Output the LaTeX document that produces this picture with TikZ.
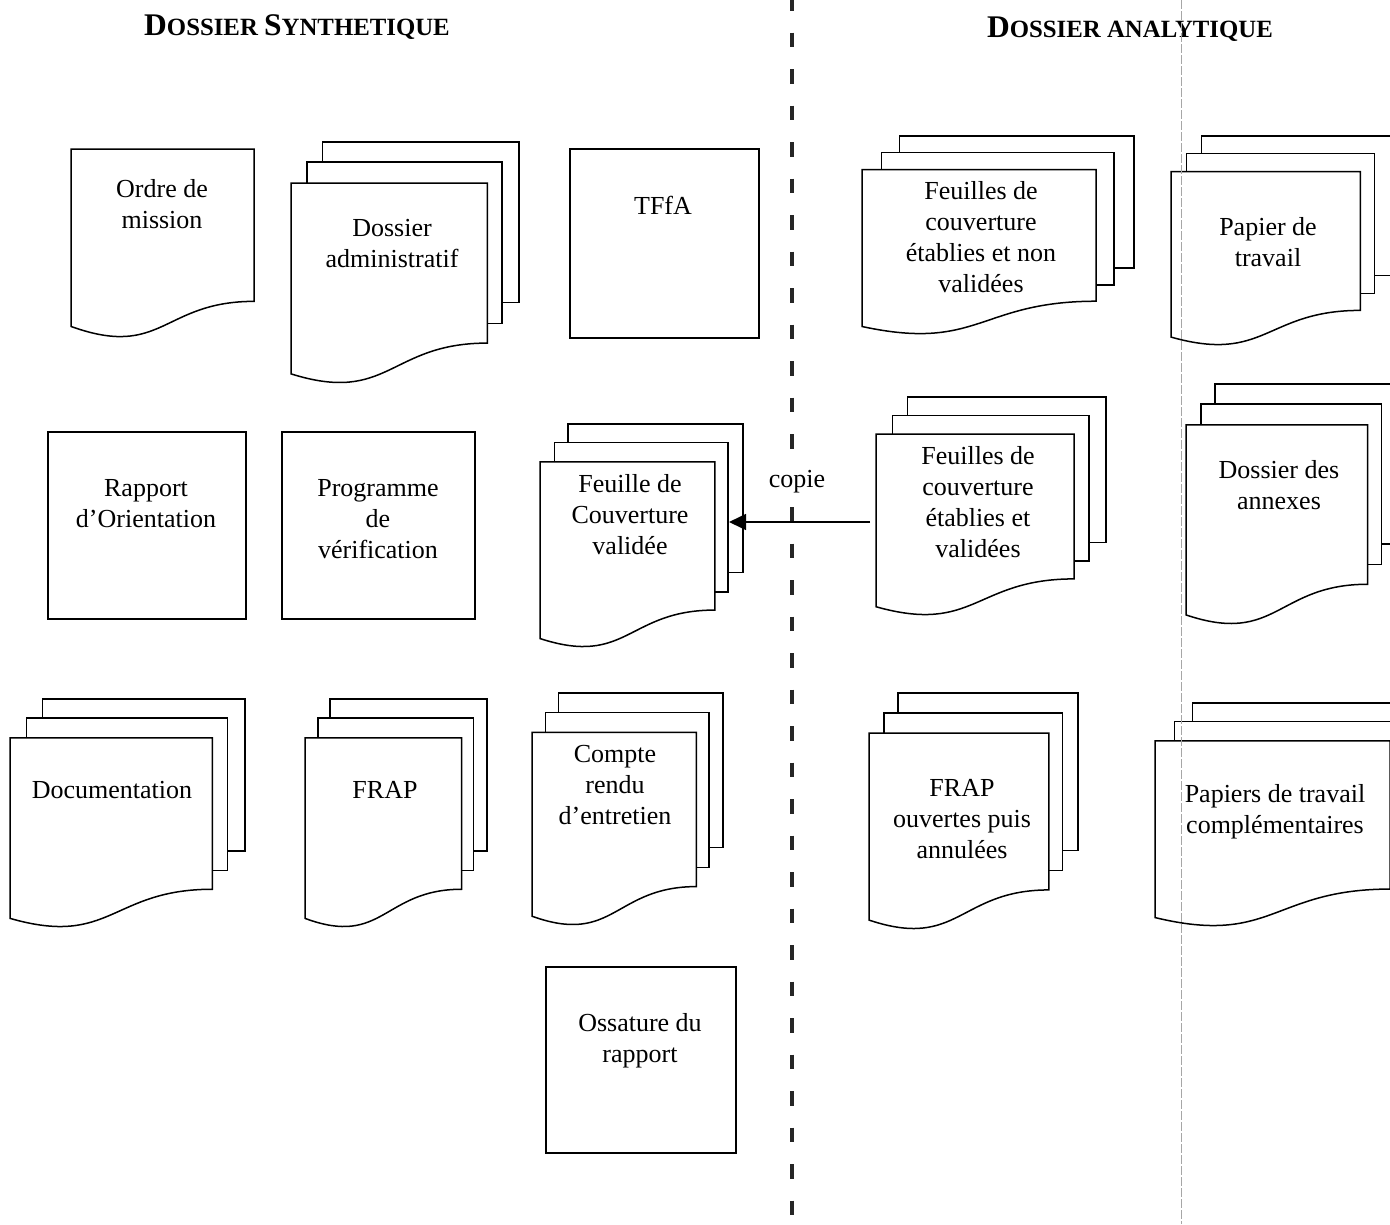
\documentclass[tikz,border=0pt]{standalone}
\usepackage{fontspec}
\setmainfont{Liberation Serif}
\usetikzlibrary{arrows.meta}

\tikzset{
  sheet/.style={draw=black, line width=1.5pt, fill=white, line join=miter},
  lbl/.style={align=center, font=\fontsize{26}{31}\selectfont, inner sep=0pt},
  heading/.style={anchor=base, inner sep=0pt, font=\bfseries},
  separator/.style={draw=black!85, line width=4pt, dash pattern=on 14.5pt off 22pt, dash phase=4pt},
  copyarrow/.style={line width=1.5pt, -{Triangle[length=17pt,width=16pt]}, shorten <=6pt},
  copylbl/.style={lbl, fill=white, inner sep=3pt},
  marginline/.style={draw=black!35, line width=0.6pt, dash pattern=on 9pt off 2pt}
}

% single document sheet: #1,#2 = top-left corner, #3 = width, #4 = height
\newcommand\onedoc[4]{%
  \draw[sheet] (#1,#2) -- ({#1+#3},#2) -- ({#1+#3},{#2+0.8019*#4})
    .. controls ({#1+0.5*#3},{#2+0.8019*#4}) and ({#1+0.5*#3},{#2+1.1075*#4})
    .. (#1,{#2+0.9339*#4}) -- cycle;}

% stack of three document sheets: #1,#2 = top-left corner, #3 = width, #4 = height
\newcommand\multidoc[4]{%
  \draw[sheet] ({#1+0.1376*#3},#2) rectangle ({#1+#3},{#2+0.6663*#4});
  \draw[sheet] ({#1+0.0709*#3},{#2+0.0840*#4}) rectangle ({#1+0.9259*#3},{#2+0.7524*#4});
  \draw[sheet] (#1,{#2+0.1701*#4}) -- ({#1+0.8609*#3},{#2+0.1701*#4})
    -- ({#1+0.8609*#3},{#2+0.8344*#4})
    .. controls ({#1+0.4305*#3},{#2+0.8344*#4}) and ({#1+0.4305*#3},{#2+1.0899*#4})
    .. (#1,{#2+0.9621*#4}) -- cycle;}

\begin{document}
\begin{tikzpicture}[x=1pt,y=-1pt]
  \useasboundingbox[fill=white] (0,0) rectangle (1390,1224);

  % column headings
  \node[heading] (hsyn) at (297,35)
    {{\fontsize{31.5}{32}\selectfont D}{\fontsize{24.8}{26}\selectfont OSSIER }{\fontsize{31.5}{32}\selectfont S}{\fontsize{24.8}{26}\selectfont YNTHETIQUE}};
  \node[heading] (hana) at (1130,37)
    {{\fontsize{31.5}{32}\selectfont D}{\fontsize{24.8}{26}\selectfont OSSIER ANALYTIQUE}};

  % separation between the two files
  \draw[separator] (792,0) -- (792,1224);

  % ---- synthetic file ----
  \onedoc{71}{149}{183}{190}
  \node[lbl] (ordre) at (162,204) {Ordre de\\mission};

  \multidoc{291}{142}{228}{241}
  \node[lbl] (admin) at (392,244) {Dossier\\administratif};

  \draw[sheet] (570,149) rectangle (759,338);
  \node[lbl] (tffa) at (663,205) {TFfA};

  \draw[sheet] (48,432) rectangle (246,619);
  \node[lbl] (rapport) at (146,504) {Rapport\\d’Orientation};

  \draw[sheet] (282,432) rectangle (475,619);
  \node[lbl] (prog) at (378,519) {Programme\\de\\vérification};

  \multidoc{540}{424}{203}{223}
  \node[lbl] (fcv) at (630,515) {Feuille de\\Couverture\\validée};

  \multidoc{10}{699}{235}{228}
  \node[lbl] (docu) at (112,790) {Documentation};

  \multidoc{305}{699}{182}{228}
  \node[lbl] (frap) at (385,790) {FRAP};

  \multidoc{532}{693}{191}{232}
  \node[lbl] (compte) at (615,785) {Compte\\rendu\\d’entretien};

  \draw[sheet] (546,967) rectangle (736,1153);
  \node[lbl] (ossature) at (640,1041) {Ossature du\\rapport};

  % ---- analytic file ----
  \multidoc{862}{136}{272}{198}
  \node[lbl] (fnv) at (981,237) {Feuilles de\\couverture\\établies et non\\validées};

  \multidoc{1171}{136}{220}{209}
  \node[lbl] (papier) at (1268,242) {Papier de\\travail};

  \multidoc{876}{397}{230}{218}
  \node[lbl] (fev) at (978,502) {Feuilles de\\couverture\\établies et\\validées};

  \multidoc{1186}{384}{211}{240}
  \node[lbl] (annexes) at (1279,485) {Dossier des\\annexes};

  \multidoc{869}{693}{209}{236}
  \node[lbl] (frapa) at (962,819) {FRAP\\ouvertes puis\\annulées};

  \multidoc{1155}{703}{273}{223}
  \node[lbl] (pcompl) at (1275,812) {Papiers de travail\\complémentaires};

  % copy of the validated cover sheets
  \coordinate (fev-in) at (876,522);
  \coordinate (fcv-out) at (729,522);
  \node[copylbl] (copie) at (797,482) {copie};
  \draw[copyarrow] (fev-in) -- (fcv-out);

  % faint page margin
  \draw[marginline] (1181,0) -- (1181,1224);
\end{tikzpicture}
\end{document}
